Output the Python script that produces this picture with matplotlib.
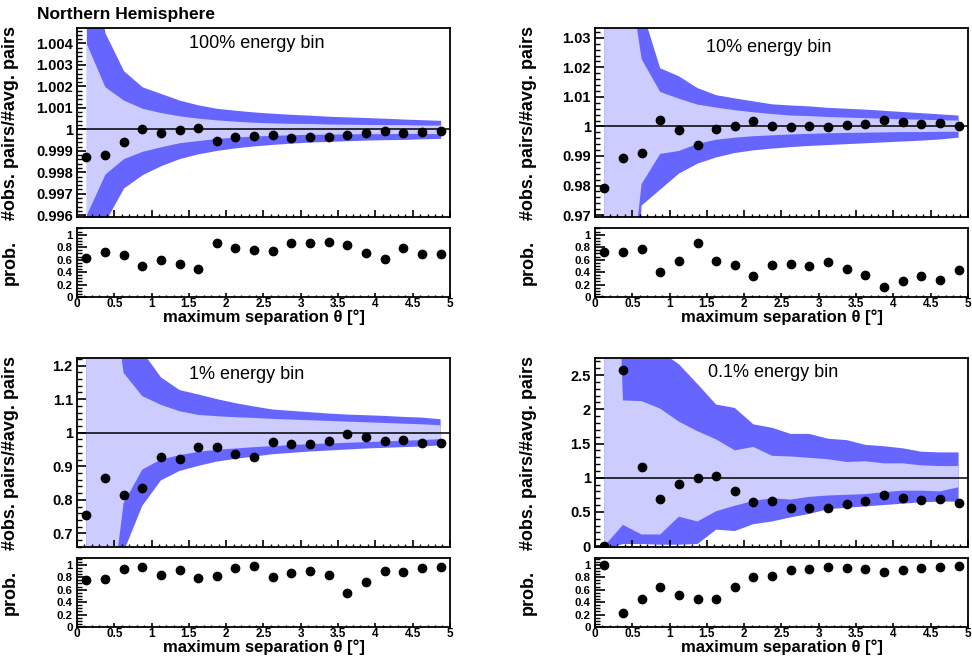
import matplotlib
matplotlib.use("Agg")
import matplotlib.pyplot as plt
from matplotlib.ticker import MultipleLocator, FormatStrFormatter

plt.rcParams['font.family'] = ['Liberation Sans', 'DejaVu Sans']

# bin centres of the maximum separation (deg)
theta = [0.125, 0.375, 0.625, 0.875, 1.125, 1.375, 1.625, 1.875, 2.125, 2.375,
         2.625, 2.875, 3.125, 3.375, 3.625, 3.875, 4.125, 4.375, 4.625, 4.875]

# 100% energy bin
ratio_100 = [0.9987, 0.9988, 0.99942, 1.00002, 0.99981, 0.99997, 1.00008, 0.99947, 0.99964, 0.9997,
             0.99975, 0.99961, 0.99966, 0.99964, 0.99972, 0.99983, 0.99992, 0.99981, 0.99988, 0.99991]
prob_100 = [0.632, 0.73, 0.676, 0.49, 0.595, 0.524, 0.443, 0.86, 0.784, 0.757,
            0.746, 0.87, 0.86, 0.89, 0.832, 0.708, 0.611, 0.784, 0.686, 0.686]
hi2_100 = [1.010, 1.0045, 1.00273, 1.00198, 1.00167, 1.00136, 1.00114, 1.00098, 1.00089, 1.00081,
           1.00075, 1.0007, 1.00066, 1.00061, 1.00058, 1.00055, 1.00052, 1.00048, 1.00045, 1.00042]
hi1_100 = [1.0040, 1.00198, 1.00136, 1.00098, 1.00078, 1.00063, 1.00052, 1.00044, 1.00038, 1.00033,
           1.0003, 1.00028, 1.00027, 1.00025, 1.00024, 1.00023, 1.00022, 1.00022, 1.0002, 1.0002]
lo1_100 = [0.99602, 0.99792, 0.99864, 0.99898, 0.99919, 0.99938, 0.99948, 0.99958, 0.99964, 0.99969,
           0.99972, 0.99975, 0.99977, 0.99978, 0.99979, 0.9998, 0.9998, 0.99981, 0.99981, 0.9998]
lo2_100 = [0.990, 0.9957, 0.99727, 0.99789, 0.99831, 0.99864, 0.99886, 0.99902, 0.99914, 0.99923,
           0.9993, 0.99936, 0.99941, 0.99944, 0.99947, 0.9995, 0.99952, 0.99953, 0.99956, 0.99958]

# 10% energy bin
ratio_10 = [0.9791, 0.9894, 0.9910, 1.0023, 0.9987, 0.9937, 0.9991, 1.0000, 1.0018, 1.0000,
            0.9998, 1.0001, 0.9997, 1.0004, 1.0010, 1.0023, 1.0014, 1.0010, 1.0012, 1.0003]
prob_10 = [0.719, 0.724, 0.773, 0.395, 0.573, 0.86, 0.573, 0.508, 0.33, 0.519,
           0.53, 0.497, 0.568, 0.443, 0.351, 0.157, 0.26, 0.33, 0.276, 0.438]
hi2_10 = [1.30, 1.10, 1.040, 1.0197, 1.0170, 1.0130, 1.0106, 1.0095, 1.0085, 1.0075,
          1.0071, 1.0068, 1.0063, 1.0060, 1.0057, 1.0053, 1.0049, 1.0045, 1.0041, 1.0037]
hi1_10 = [1.20, 1.065, 1.0228, 1.0117, 1.0094, 1.0074, 1.0064, 1.0055, 1.0048, 1.0042,
          1.0037, 1.0035, 1.0032, 1.0030, 1.0028, 1.0026, 1.0024, 1.0023, 1.0021, 1.0020]
lo1_10 = [0.85, 0.924, 0.9805, 0.9907, 0.9917, 0.9941, 0.9955, 0.9962, 0.9967, 0.9970,
          0.9973, 0.9975, 0.9977, 0.9978, 0.9979, 0.9980, 0.9981, 0.9981, 0.9982, 0.9982]
lo2_10 = [0.80, 0.85, 0.9732, 0.9786, 0.9840, 0.9874, 0.9895, 0.9910, 0.9919, 0.9925,
          0.9930, 0.9934, 0.9937, 0.9940, 0.9943, 0.9946, 0.9949, 0.9952, 0.9956, 0.9962]

# 1% energy bin
ratio_1 = [0.7545, 0.8663, 0.8149, 0.8366, 0.9277, 0.9228, 0.9584, 0.9574, 0.9366, 0.9267,
           0.9713, 0.9663, 0.9653, 0.9743, 0.9960, 0.9871, 0.9752, 0.9772, 0.9703, 0.9683]
prob_1 = [0.751, 0.768, 0.935, 0.968, 0.838, 0.908, 0.789, 0.827, 0.946, 0.978,
          0.805, 0.87, 0.897, 0.843, 0.551, 0.73, 0.892, 0.881, 0.946, 0.962]
hi2_1 = [5.0, 3.0, 1.45, 1.242, 1.165, 1.127, 1.114, 1.100, 1.088, 1.078,
         1.069, 1.065, 1.061, 1.057, 1.054, 1.052, 1.050, 1.047, 1.045, 1.040]
hi1_1 = [3.0, 1.6, 1.178, 1.109, 1.083, 1.064, 1.053, 1.049, 1.046, 1.044,
         1.041, 1.039, 1.037, 1.035, 1.033, 1.031, 1.029, 1.027, 1.025, 1.022]
lo1_1 = [0.2, 0.35, 0.79, 0.89, 0.92, 0.933, 0.943, 0.949, 0.953, 0.957,
         0.960, 0.963, 0.966, 0.968, 0.970, 0.972, 0.974, 0.976, 0.978, 0.981]
lo2_1 = [0.1, 0.2, 0.645, 0.782, 0.858, 0.886, 0.901, 0.914, 0.922, 0.929,
         0.936, 0.940, 0.944, 0.947, 0.950, 0.953, 0.955, 0.957, 0.959, 0.962]

# 0.1% energy bin
ratio_01 = [0.0, 2.57, 1.16, 0.69, 0.91, 1.0, 1.02, 0.81, 0.645, 0.665,
            0.55, 0.555, 0.555, 0.612, 0.661, 0.74, 0.705, 0.675, 0.685, 0.625]
prob_01 = [1.0, 0.227, 0.443, 0.649, 0.519, 0.449, 0.443, 0.643, 0.8, 0.822,
           0.919, 0.935, 0.957, 0.941, 0.93, 0.886, 0.919, 0.951, 0.957, 0.984]
hi2_01 = [20, 3.3, 3.0, 2.85, 2.66, 2.37, 2.07, 2.02, 1.78, 1.73,
          1.64, 1.64, 1.57, 1.55, 1.48, 1.46, 1.43, 1.38, 1.37, 1.37]
hi1_01 = [10, 2.13, 2.12, 2.01, 1.82, 1.68, 1.56, 1.40, 1.45, 1.32,
          1.31, 1.29, 1.27, 1.23, 1.24, 1.21, 1.21, 1.18, 1.17, 1.17]
lo1_01 = [0.0, 0.31, 0.17, 0.17, 0.43, 0.36, 0.51, 0.59, 0.66, 0.70,
          0.68, 0.72, 0.74, 0.75, 0.76, 0.79, 0.81, 0.81, 0.80, 0.86]
lo2_01 = [-0.05, 0.03, 0.03, 0.02, 0.02, 0.03, 0.24, 0.22, 0.32, 0.36,
          0.42, 0.47, 0.54, 0.56, 0.58, 0.60, 0.62, 0.64, 0.65, 0.65]

DARK = '#6666ff'
LIGHT = '#ccccff'

fig = plt.figure(figsize=(9.72, 6.61), dpi=100)


def style_axis(ax, ymaj, ymin, ylen, xlen, ysize, xsize):
    ax.set_xlim(0, 5)
    ax.xaxis.set_major_locator(MultipleLocator(0.5))
    ax.xaxis.set_minor_locator(MultipleLocator(0.1))
    ax.yaxis.set_major_locator(MultipleLocator(ymaj))
    ax.yaxis.set_minor_locator(MultipleLocator(ymin))
    ax.yaxis.set_major_formatter(FormatStrFormatter('%g'))
    ax.xaxis.set_major_formatter(FormatStrFormatter('%g'))
    ax.tick_params(axis='y', which='major', direction='in', length=ylen, width=1.2,
                   labelsize=ysize, pad=3)
    ax.tick_params(axis='y', which='minor', direction='in', length=ylen * 0.5, width=1.0)
    ax.tick_params(axis='x', which='major', direction='in', length=xlen, width=1.2,
                   labelsize=xsize, pad=1)
    ax.tick_params(axis='x', which='minor', direction='in', length=xlen * 0.5, width=1.0)
    for s in ax.spines.values():
        s.set_linewidth(1.3)


def panel(left, bottom, ratio, prob, hi2, hi1, lo1, lo2, ylim, ymaj, ymin, text, tx, ty):
    ax = fig.add_axes([left, bottom + 0.1204, 0.3837, 0.2859])
    ax.fill_between(theta, lo2, hi2, color=DARK, lw=0)
    ax.fill_between(theta, lo1, hi1, color=LIGHT, lw=0)
    ax.axhline(1, color='black', lw=1.1)
    ax.plot(theta, ratio, 'o', color='black', ms=6)
    ax.set_ylim(*ylim)
    style_axis(ax, ymaj, ymin, 6.5, 5, 10.5, 10)
    ax.tick_params(axis='x', labelbottom=False)
    for lab in ax.get_yticklabels():
        lab.set_fontweight('bold')
    ax.set_ylabel('#obs. pairs/#avg. pairs', fontsize=13, fontweight='bold')
    ax.yaxis.set_label_coords(-0.155, 0.5)
    ax.text(tx, ty, text, transform=ax.transAxes, ha='center', va='center', fontsize=13)

    axp = fig.add_axes([left, bottom, 0.3837, 0.1044])
    axp.plot(theta, prob, 'o', color='black', ms=6)
    axp.set_ylim(0, 1.108)
    style_axis(axp, 0.2, 0.05, 7, 3, 8.2, 8.5)
    for lab in axp.get_xticklabels() + axp.get_yticklabels():
        lab.set_fontweight('bold')
    axp.set_ylabel('prob.', fontsize=13, fontweight='bold')
    axp.yaxis.set_label_coords(-0.155, 0.5)
    axp.set_xlabel('maximum separation θ [°]', fontsize=12, fontweight='bold')
    axp.xaxis.label.set_va('center')
    axp.xaxis.set_label_coords(0.5, -0.29)
    return ax


panel(0.0792, 0.5507, ratio_100, prob_100, hi2_100, hi1_100, lo1_100, lo2_100,
      (0.9959, 1.0047), 0.001, 0.0002, '100% energy bin', 0.483, 0.92)
panel(0.6121, 0.5507, ratio_10, prob_10, hi2_10, hi1_10, lo1_10, lo2_10,
      (0.9692, 1.0332), 0.01, 0.002, '10% energy bin', 0.467, 0.90)
panel(0.0792, 0.0514, ratio_1, prob_1, hi2_1, hi1_1, lo1_1, lo2_1,
      (0.6584, 1.221), 0.1, 0.02, '1% energy bin', 0.455, 0.915)
panel(0.6121, 0.0514, ratio_01, prob_01, hi2_01, hi1_01, lo1_01, lo2_01,
      (-0.02, 2.744), 0.5, 0.1, '0.1% energy bin', 0.479, 0.924)

fig.text(37 / 972, 1 - 14 / 661, 'Northern Hemisphere', fontsize=12.5, fontweight='bold',
         ha='left', va='center')

fig.savefig('out.png', dpi=100)
